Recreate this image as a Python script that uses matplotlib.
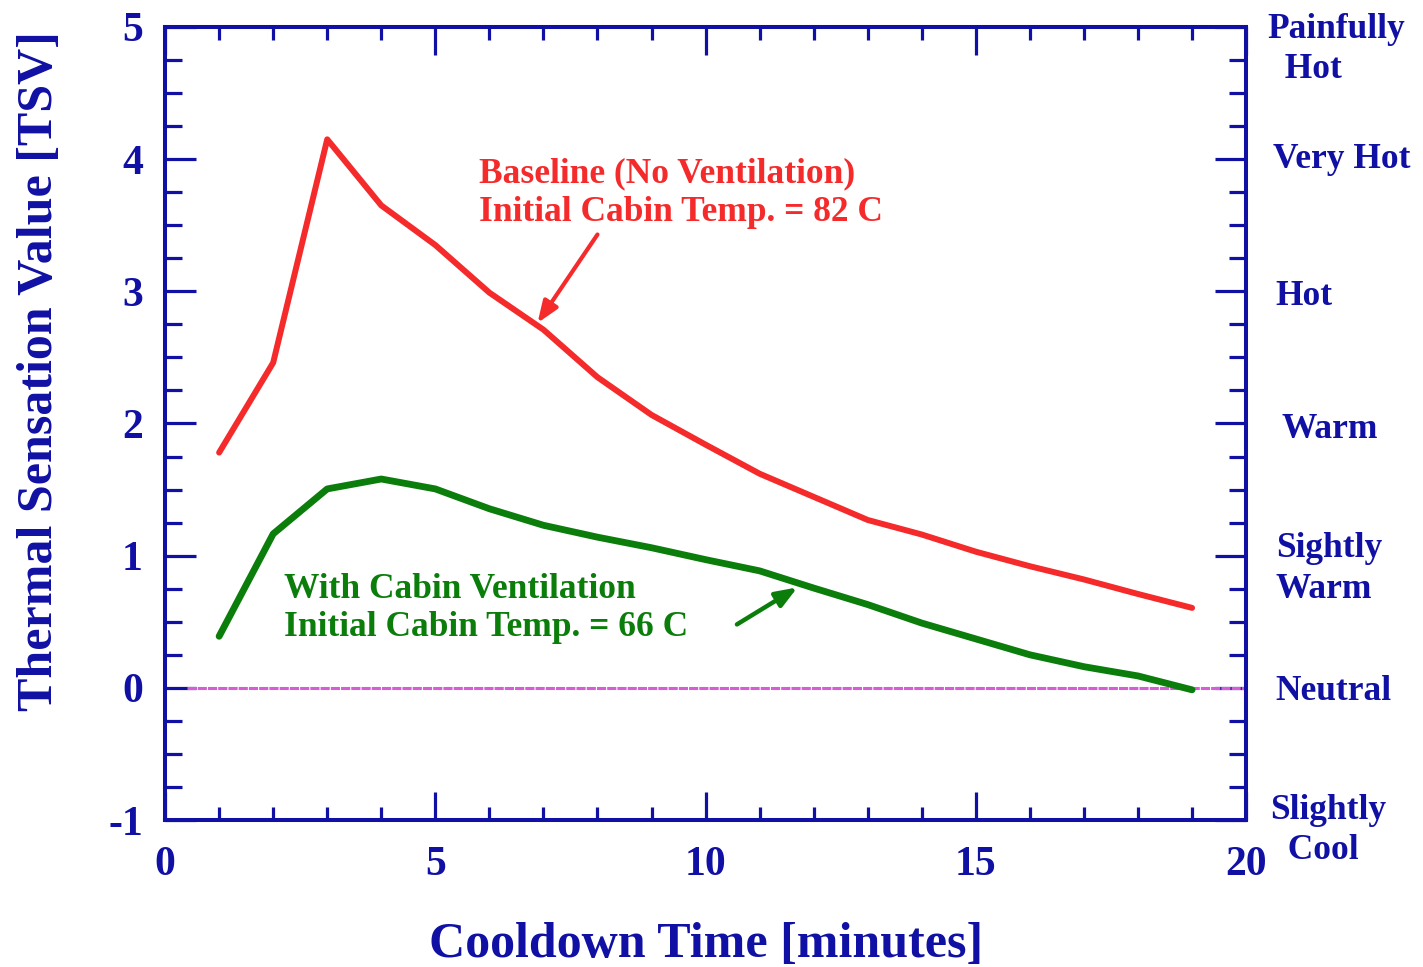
import matplotlib
matplotlib.use("Agg")
import matplotlib.pyplot as plt
import matplotlib.transforms as mtransforms
from matplotlib.ticker import MultipleLocator

plt.rcParams["font.family"] = ["Liberation Serif", "DejaVu Serif"]
plt.rcParams["font.weight"] = "bold"
plt.rcParams["axes.unicode_minus"] = False

BLUE = "#1010a4"
RED = "#f52a2a"
GREEN = "#0b7d0b"
MAGENTA = "#d75cd6"

# Cooldown time [minutes]
minutes = [1, 2, 3, 4, 5, 6, 7, 8, 9, 10, 11, 12, 13, 14, 15, 16, 17, 18, 19]
# Baseline (no ventilation), initial cabin temp 82 C
tsv_baseline = [1.78, 2.46, 4.15, 3.65, 3.35, 2.99, 2.71, 2.35, 2.065, 1.84,
                1.62, 1.445, 1.27, 1.16, 1.03, 0.92, 0.82, 0.71, 0.605]
# With cabin ventilation, initial cabin temp 66 C
tsv_vent = [0.39, 1.165, 1.505, 1.58, 1.505, 1.355, 1.23, 1.14, 1.06, 0.97,
            0.885, 0.755, 0.63, 0.49, 0.37, 0.25, 0.16, 0.09, -0.015]

neutral_x = [0.4, 20]
neutral_y = [0, 0]

sensation_levels = [4.83, 4, 2.96, 1.955, 0.90, -0.03, -1.08]
sensation_labels = ["Painfully\n  Hot", "Very Hot", "Hot", "Warm",
                    "Sightly\nWarm", "Neutral", "Slightly\n  Cool"]
sensation_xpos = [1.0195, 1.0250, 1.0275, 1.0330, 1.0275, 1.0275, 1.0225]

fig = plt.figure(figsize=(14.23, 9.67), dpi=100)
ax = fig.add_axes([0.1160, 0.1520, 0.7597, 0.8201])

ax.plot(neutral_x, neutral_y, color=MAGENTA, lw=2.2, linestyle=(0, (3.0, 0.35)))
ax.plot(minutes, tsv_baseline, color=RED, lw=4.3, solid_capstyle="round",
        solid_joinstyle="round")
ax.plot(minutes, tsv_vent, color=GREEN, lw=4.9, solid_capstyle="round",
        solid_joinstyle="round")

ax.set_xlim(0, 20)
ax.set_ylim(-1, 5)
ax.xaxis.set_major_locator(MultipleLocator(5))
ax.xaxis.set_minor_locator(MultipleLocator(1))
ax.yaxis.set_major_locator(MultipleLocator(1))
ax.yaxis.set_minor_locator(MultipleLocator(0.25))

for sp in ax.spines.values():
    sp.set_color(BLUE)
    sp.set_linewidth(2.9)

ax.tick_params(which="both", direction="in", top=True, right=True, color=BLUE,
               width=2.3, labelcolor=BLUE)
ax.tick_params(axis="x", which="major", length=20, labelsize=30, pad=19)
ax.tick_params(axis="x", which="minor", length=9.5)
ax.tick_params(axis="y", which="major", length=22, labelsize=30, pad=16)
ax.tick_params(axis="y", which="minor", length=12)
ax.tick_params(axis="y", which="both", labelright=False)

ax.set_xlabel("Cooldown Time [minutes]", fontsize=36, fontweight="bold",
              color=BLUE, labelpad=27)
ax.set_ylabel("Thermal Sensation Value [TSV]", fontsize=36, fontweight="bold",
              color=BLUE)
ax.yaxis.set_label_coords(-0.0945, 0.566)

trans = mtransforms.blended_transform_factory(ax.transAxes, ax.transData)
for lvl, lab, xp in zip(sensation_levels, sensation_labels, sensation_xpos):
    ax.text(xp, lvl, lab, transform=trans, fontsize=25.5, color=BLUE,
            ha="left", va="center", linespacing=1.3, clip_on=False)

ax.text(5.81, 3.74, "Baseline (No Ventilation)\nInitial Cabin Temp. = 82 C",
        fontsize=25.5, color=RED, ha="left", va="center", linespacing=1.23)
ax.annotate("", xy=(6.89, 2.76), xytext=(8.0, 3.43),
            arrowprops=dict(arrowstyle="-|>,head_length=1.3,head_width=0.5",
                            color=RED, lw=3.0, shrinkA=0, shrinkB=0))

ax.text(2.2, 0.60, "With Cabin Ventilation\nInitial Cabin Temp. = 66 C",
        fontsize=25.5, color=GREEN, ha="left", va="center", linespacing=1.23)
ax.annotate("", xy=(11.7, 0.76), xytext=(10.58, 0.48),
            arrowprops=dict(arrowstyle="-|>,head_length=1.3,head_width=0.5",
                            color=GREEN, lw=3.2, shrinkA=0, shrinkB=0))

fig.savefig("out.png", dpi=100)
